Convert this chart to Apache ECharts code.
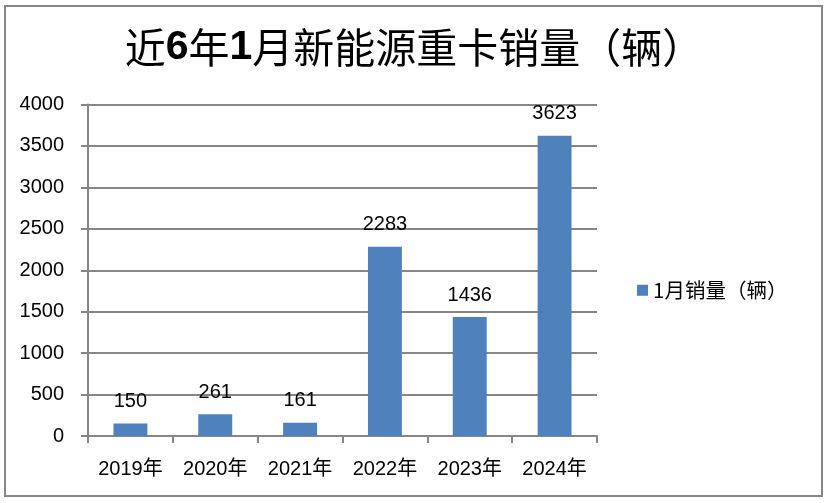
<!DOCTYPE html>
<html><head><meta charset="utf-8">
<script src="https://cdn.jsdelivr.net/npm/echarts@6/dist/echarts.min.js"></script>
<style>html,body{margin:0;padding:0;background:#fff}#c{width:828px;height:503px}</style>
</head><body><div id="c"></div>
<script>
const categories = ['2019年','2020年','2021年','2022年','2023年','2024年'];
const sales = [150, 261, 161, 2283, 1436, 3623];
const seriesName = '1月销量（辆）';
const yTicks = {min: 0, max: 4000, interval: 500};

const chart = echarts.init(document.getElementById('c'), null, {renderer: 'canvas'});
const lab = "'Liberation Sans', 'Noto Sans CJK SC', sans-serif";
const cjk = "'Noto Sans CJK SC', sans-serif";
chart.setOption({
  animation: false,
  backgroundColor: '#fff',
  graphic: [{type: 'rect', shape: {x: 5, y: 6, width: 817, height: 490}, style: {fill: 'none', stroke: '#878787', lineWidth: 2}}],
  title: {
    text: '近{b|6}年{b|1}月新能源重卡销量（辆）',
    left: 'center', top: 22,
    textStyle: {
      fontFamily: cjk, fontSize: 41, color: '#000', fontWeight: 'normal',
      rich: {b: {fontFamily: lab, fontSize: 41, fontWeight: 'bold', color: '#000'}}
    }
  },
  legend: {
    data: [seriesName], orient: 'vertical', left: 632, top: 275,
    icon: 'rect', itemWidth: 11, itemHeight: 11, itemGap: 8,
    textStyle: {fontFamily: cjk, fontSize: 20.5, color: '#000'}
  },
  grid: {left: 88, right: 231, top: 104.5, bottom: 67, containLabel: false},
  xAxis: {
    type: 'category', data: categories,
    axisLine: {lineStyle: {color: '#868686', width: 2}},
    axisTick: {show: true, length: 7, lineStyle: {color: '#868686', width: 2}},
    axisLabel: {fontFamily: lab, fontSize: 20, color: '#000', margin: 23}
  },
  yAxis: {
    type: 'value', min: yTicks.min, max: yTicks.max, interval: yTicks.interval,
    axisLine: {show: true, lineStyle: {color: '#868686', width: 2}},
    axisTick: {show: true, length: 7, lineStyle: {color: '#868686', width: 2}},
    splitLine: {lineStyle: {color: '#868686', width: 2}},
    axisLabel: {fontFamily: lab, fontSize: 20, color: '#000', margin: 24, formatter: v => String(v)}
  },
  series: [{
    name: seriesName, type: 'bar', data: sales, barWidth: '40%',
    itemStyle: {color: '#4f81bd'},
    label: {show: true, position: 'top', distance: 12, fontFamily: lab, fontSize: 20, color: '#000'}
  }]
});
</script></body></html>
